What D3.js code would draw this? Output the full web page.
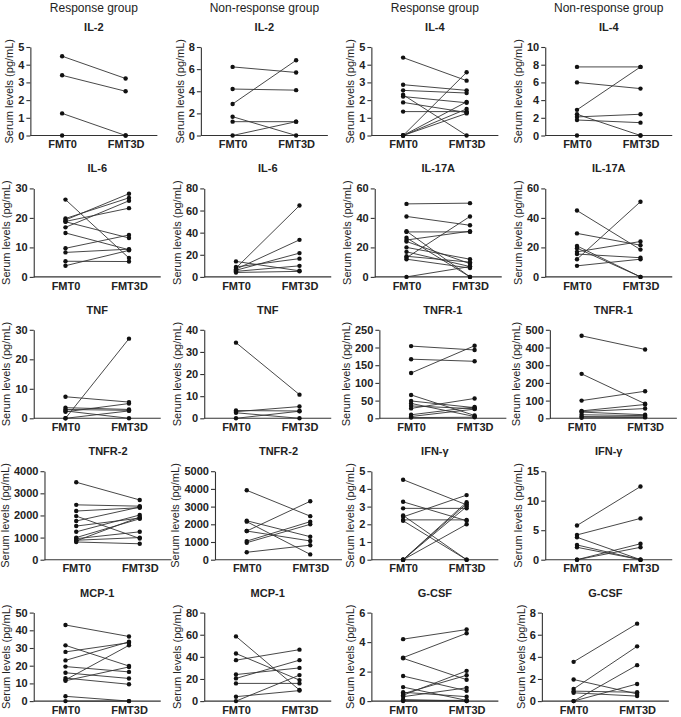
<!DOCTYPE html>
<html><head><meta charset="utf-8">
<script src="https://cdn.jsdelivr.net/npm/d3@7"></script>
<style>
body{margin:0;background:#fff}
svg{display:block}
text{font-family:Arial,"Liberation Sans",sans-serif}
</style></head>
<body><svg id="c" width="681" height="717"></svg>
<script>
// ---------- DATA ----------
const groupHeaders = ["Response group", "Non-response group", "Response group", "Non-response group"];
const timepoints = ["FMT0", "FMT3D"];
const panelTitles = ["IL-2","IL-2","IL-4","IL-4","IL-6","IL-6","IL-17A","IL-17A","TNF","TNF",
  "TNFR-1","TNFR-1","TNFR-2","TNFR-2","IFN-γ","IFN-γ","MCP-1","MCP-1","G-CSF","G-CSF"];
const yAxisTitle = "Serum levels (pg/mL)";

// y tick labels per panel
const ticksIL2R = [0,1,2,3,4,5];
const ticksIL2N = [0,2,4,6,8];
const ticksIL4R = [0,1,2,3,4,5];
const ticksIL4N = [0,2,4,6,8,10];
const ticksIL6R = [0,10,20,30];
const ticksIL6N = [0,20,40,60,80];
const ticksIL17R = [0,20,40,60];
const ticksIL17N = [0,20,40,60];
const ticksTNFR = [0,10,20,30];
const ticksTNFN = [0,10,20,30,40];
const ticksTNFR1R = [0,50,100,150,200,250];
const ticksTNFR1N = [0,100,200,300,400,500];
const ticksTNFR2R = [0,1000,2000,3000,4000];
const ticksTNFR2N = [0,1000,2000,3000,4000,5000];
const ticksIFNR = [0,1,2,3,4,5];
const ticksIFNN = [0,5,10,15];
const ticksMCPR = [0,10,20,30,40,50];
const ticksMCPN = [0,20,40,60,80];
const ticksGCSFR = [0,2,4,6];
const ticksGCSFN = [0,2,4,6,8];

// paired values [FMT0, FMT3D] per patient
const IL2R = [[4.48,3.22],[3.4,2.5],[1.25,0],[0,0]];
const IL2N = [[6.2,5.7],[4.2,4.1],[2.85,6.8],[1.7,0],[1.25,1.25],[0,1.25]];
const IL4R = [[4.4,3.1],[2.87,2.55],[2.55,2.4],[2.3,0],[2.2,1.85],[1.87,1.3],[1.35,1.35],[0,3.57],[0,1.9],[0,1.5],[0,1.25]];
const IL4N = [[7.75,7.75],[6.0,5.3],[2.9,7.75],[2.4,0],[2.1,2.4],[1.75,1.45],[0,0]];
const IL6R = [[26.2,6.4],[19.8,26.8],[19.3,28.2],[18.8,23.3],[18.7,13.2],[16.8,25.8],[14.9,9.2],[9.7,14.2],[8.3,9.4],[5.3,5.2],[3.8,9.0]];
const IL6N = [[8,64.5],[7,33.5],[6,21.5],[9,16.5],[14,5.5],[5,10],[4,5]];
const IL17R = [[49.5,50],[41,35],[30.5,30.5],[31,0],[26.5,0],[25,31],[24,9],[20,12],[17,7],[13,41],[14,10],[12,6],[0,7]];
const IL17N = [[45,18.5],[29.5,21.5],[21,0],[19.5,0],[17,24],[15.5,13],[12,51],[7.5,12]];
const TNFRs = [[0,27],[7.3,5.5],[3.6,3.0],[3.0,2.7],[2.2,5.0],[2.5,0],[0,2.5]];
const TNFNs = [[34.2,10.7],[3.5,3.3],[3.0,5.3],[2.5,0],[0,3.2]];
const TNFR1R = [[204,193],[167,161],[128,205],[66,8],[49,30],[42,5],[35,27],[28,56],[10,32],[5,26],[2,3]];
const TNFR1N = [[466,389],[251,82],[100,153],[42,78],[38,55],[35,20],[20,15],[10,8],[3,5]];
const TNFR2R = [[3500,2700],[2480,2420],[2200,2350],[1970,960],[1750,2380],[1520,1880],[1260,2020],[1000,1850],[950,1260],[880,1000],[850,1930],[800,720]];
const TNFR2N = [[3920,2460],[2200,1300],[2150,300],[1620,3300],[1620,1060],[1050,2150],[960,2000],[420,820]];
const IFNR = [[4.52,3.1],[3.27,2.2],[2.9,2.9],[2.5,0],[2.42,3.65],[2.25,2.25],[2.2,0],[0,3.25],[0,3.15],[0,3.0],[0,2.0]];
const IFNN = [[5.8,12.4],[4.2,7.0],[3.8,0],[2.5,0],[2.1,0],[0,2.7],[0,2.1]];
const MCPR = [[43,36.5],[31.5,19.8],[27.8,33],[23,33.5],[19.5,16.5],[16,12.8],[13,9.5],[12,31.5],[11.5,19.3],[2.7,0],[0,0]];
const MCPN = [[58.5,10],[43,19],[37,46.5],[24,30],[20.5,37],[16,16],[4,9.5],[0,23.5]];
const GCSFR = [[4.2,4.85],[2.95,4.6],[2.9,1.45],[1.7,0.7],[0.95,0.05],[0.6,0.3],[0.5,1.75],[0.4,2.05],[0.3,0.9],[0.1,0],[0.05,0.05],[0,0]];
const GCSFN = [[3.55,7.0],[1.1,4.95],[0,3.25],[0,1.55],[1.95,0.65],[0.75,0.45],[0.9,0.8]];

const panelData = [IL2R, IL2N, IL4R, IL4N, IL6R, IL6N, IL17R, IL17N, TNFRs, TNFNs,
  TNFR1R, TNFR1N, TNFR2R, TNFR2N, IFNR, IFNN, MCPR, MCPN, GCSFR, GCSFN];
const panelTicks = [ticksIL2R, ticksIL2N, ticksIL4R, ticksIL4N, ticksIL6R, ticksIL6N, ticksIL17R, ticksIL17N,
  ticksTNFR, ticksTNFN, ticksTNFR1R, ticksTNFR1N, ticksTNFR2R, ticksTNFR2N, ticksIFNR, ticksIFNN,
  ticksMCPR, ticksMCPN, ticksGCSFR, ticksGCSFN];

// ---------- DRAW ----------
const svg = d3.select("#c");
const PW = 127, PH = 88.5;
const axisColor = "#333";
const tickFont = "bold 11px Arial, 'Liberation Sans', sans-serif";

const meas = svg.append("text").style("font", tickFont).attr("x", -100).attr("y", -100);
function textW(s){ meas.text(s); return meas.node().getComputedTextLength(); }

panelData.forEach((pairs, i) => {
  const col = i % 4, row = Math.floor(i / 4);
  const colX = col * 170.5;
  const top = 47 + row * 141.4;
  const ticks = panelTicks[i];
  const maxW = d3.max(ticks, t => textW(String(t)));
  const ax = Math.max(colX + 27 + 0.55 * maxW, colX + 20 + maxW);

  const y = d3.scaleLinear().domain([0, d3.max(ticks)]).range([top + PH, top]);
  const x = d3.scalePoint().domain(timepoints).range([ax, ax + PW]).padding(0.5);

  const g = svg.append("g");

  const yAxis = g.append("g").attr("transform", `translate(${ax},0)`)
    .call(d3.axisLeft(y).tickValues(ticks).tickFormat(d3.format("d")).tickSize(4).tickSizeOuter(0).tickPadding(2));
  yAxis.select(".domain").attr("stroke", axisColor).attr("stroke-width", 1.1);
  yAxis.selectAll(".tick line").attr("stroke", axisColor).attr("stroke-width", 1.1);
  yAxis.selectAll(".tick text").style("font", tickFont).attr("fill", "#222");

  const xAxis = g.append("g").attr("transform", `translate(0,${top + PH})`)
    .call(d3.axisBottom(x).tickSize(0).tickPadding(5));
  xAxis.select(".domain").attr("d", `M${ax},0H${ax + PW}`).attr("stroke", axisColor).attr("stroke-width", 1.1);
  xAxis.selectAll(".tick text").style("font", tickFont).attr("fill", "#222");

  const tx = Math.max(colX + 5, ax - maxW - 15);
  g.append("text")
    .attr("transform", `translate(${tx},${top + PH / 2}) rotate(-90)`)
    .attr("text-anchor", "middle").attr("dy", "0.35em")
    .style("font-size", "11px").attr("fill", "#222")
    .text(yAxisTitle);

  g.append("text").attr("x", ax + PW / 2).attr("y", top - 16)
    .attr("text-anchor", "middle").style("font-weight", "bold").style("font-size", "11px").attr("fill", "#222")
    .text(panelTitles[i]);

  if (row === 0) {
    svg.append("text").attr("x", ax + PW / 2).attr("y", 12)
      .attr("text-anchor", "middle").style("font-size", "12px").attr("fill", "#222")
      .text(groupHeaders[col]);
  }

  g.selectAll("line.pair").data(pairs).enter().append("line")
    .attr("class", "pair")
    .attr("x1", x(timepoints[0])).attr("x2", x(timepoints[1]))
    .attr("y1", d => y(d[0])).attr("y2", d => y(d[1]))
    .attr("stroke", "#333").attr("stroke-width", 0.9);

  const pts = [];
  pairs.forEach(d => { pts.push([timepoints[0], d[0]]); pts.push([timepoints[1], d[1]]); });
  g.selectAll("circle").data(pts).enter().append("circle")
    .attr("cx", d => x(d[0])).attr("cy", d => y(d[1])).attr("r", 2.2).attr("fill", "#111");
});
meas.remove();
</script></body></html>
